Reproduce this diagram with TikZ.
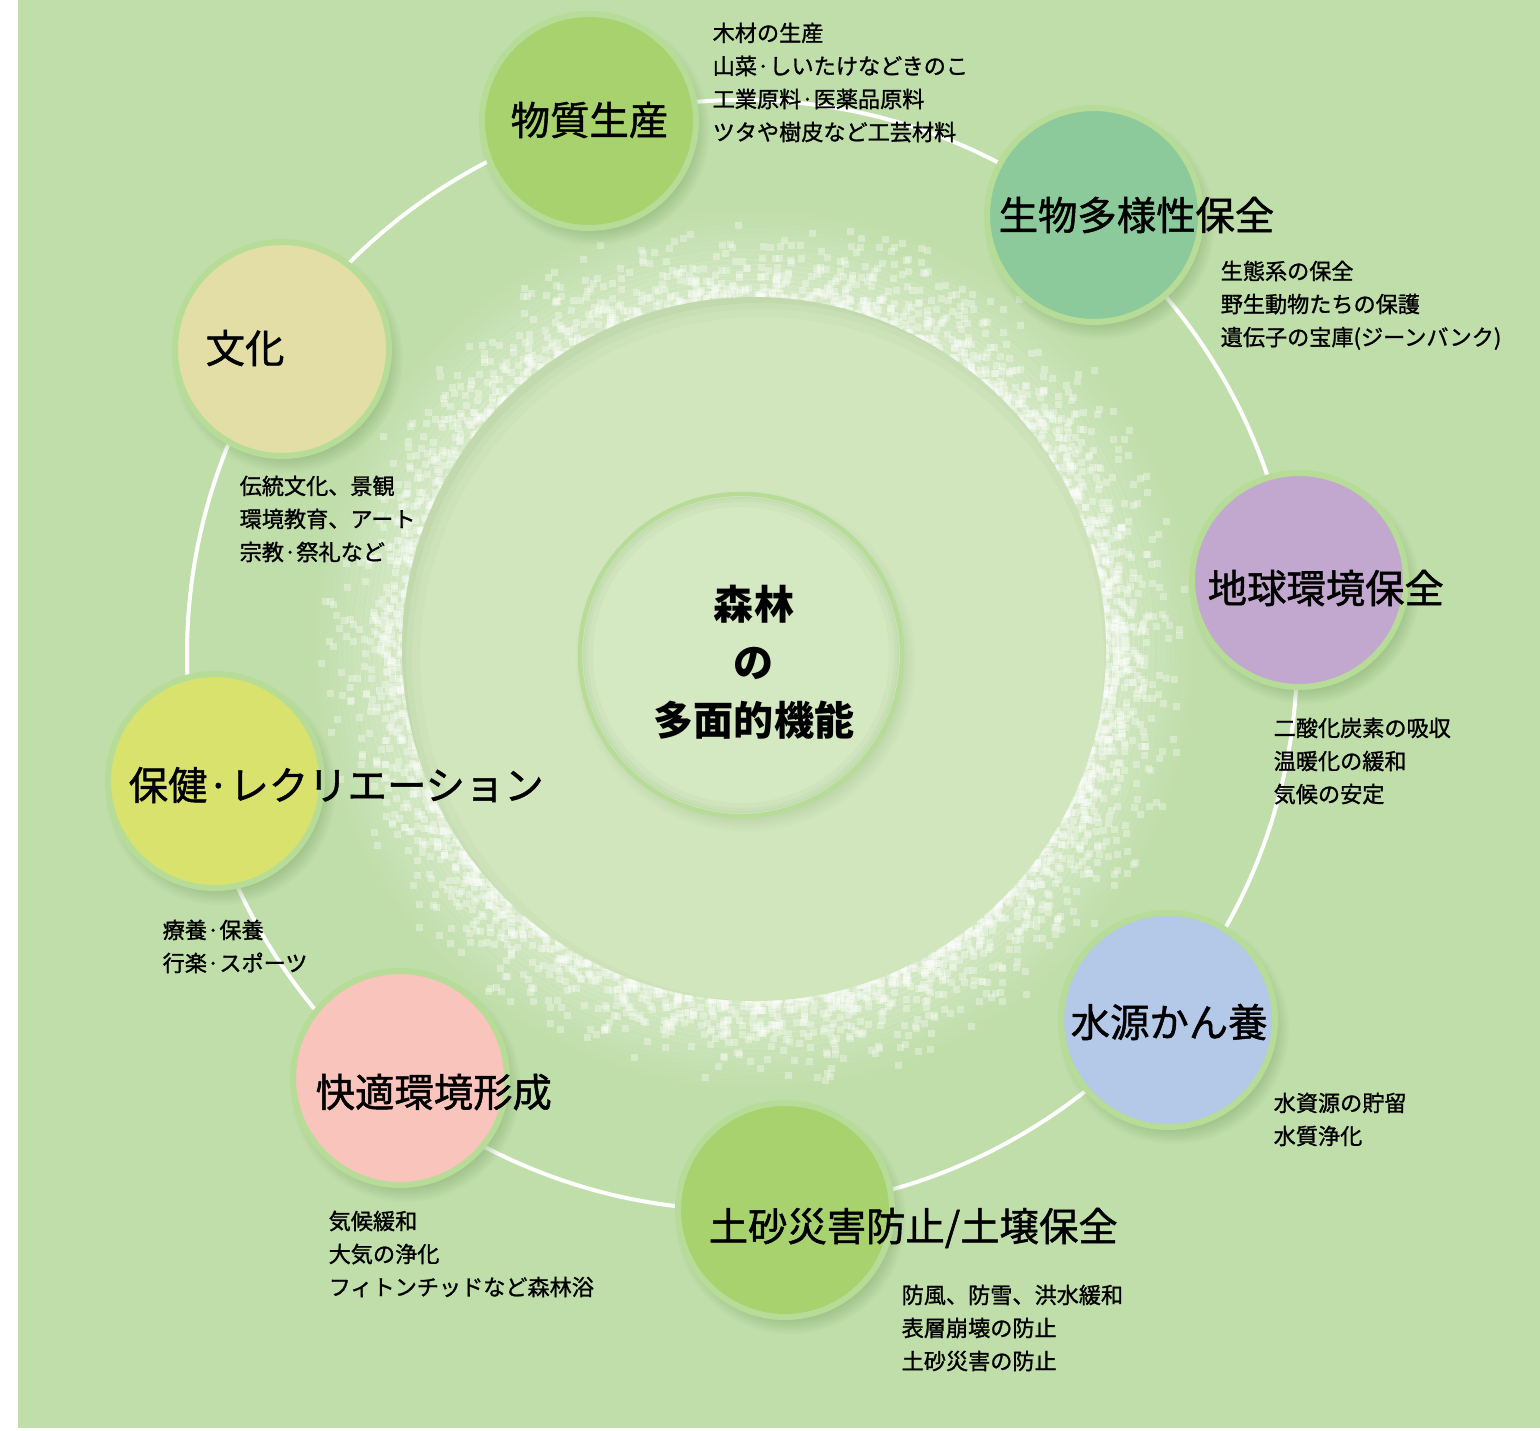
\documentclass[tikz,border=0pt]{standalone}
\usepackage{fontspec}
\setmainfont{Noto Sans CJK JP}
\newfontfamily\medfont{Noto Sans CJK JP}[FakeBold=1.2]
\usetikzlibrary{shadows}
\definecolor{bggreen}{RGB}{192,222,170}
\definecolor{diskgreen}{RGB}{210,230,190}
\definecolor{centergreen}{RGB}{212,232,194}
\definecolor{ringgreen}{RGB}{182,220,152}
\definecolor{shadowgreen}{RGB}{120,160,100}
\definecolor{busshitsuC}{RGB}{168,210,110}
\definecolor{seibutsuC}{RGB}{140,202,155}
\definecolor{chikyuC}{RGB}{194,168,206}
\definecolor{suigenC}{RGB}{180,200,232}
\definecolor{doshaC}{RGB}{168,210,110}
\definecolor{kaitekiC}{RGB}{248,196,188}
\definecolor{hokenC}{RGB}{218,226,110}
\definecolor{bunkaC}{RGB}{226,222,166}
\newcommand{\titlefont}{\fontsize{11.2pt}{13pt}\medfont}
\newcommand{\notefont}{\fontsize{6.3pt}{9.4pt}\medfont}

\begin{document}
\begin{tikzpicture}[x=0.1mm,y=-0.1mm,
  bubble/.style={circle,draw=ringgreen,line width=0.6mm,minimum size=21.4mm,inner sep=0pt,
    circular drop shadow={shadow xshift=0.5mm,shadow yshift=-0.8mm,shadow scale=1.08,fill=shadowgreen,opacity=0.45}},
  functitle/.style={anchor=west,inner sep=0pt,font=\titlefont},
  funcnote/.style={anchor=north west,inner sep=0pt,align=left,font=\notefont}]
  \useasboundingbox (0,0) rectangle (1540,1430);
  \fill[bggreen] (18,0) rectangle (1540,1428);

  % speckled ring round the inner disk
  \begin{scope}[shift={(754,649)}]
    \foreach \k [evaluate=\k as \op using 0.32*(1-\k/18),
                 evaluate=\k as \rr using 352+5*\k] in {0,...,17}
      \draw[white,opacity=\op,line width=0.55mm] (0,0) circle (\rr);
    \pgfmathsetseed{42}
    \foreach \i in {1,...,3200}{
      \pgfmathsetmacro\ang{360*rnd}
      \pgfmathsetmacro\rad{346+95*rnd*rnd}
      \fill[white,opacity=0.32] (\ang:\rad) rectangle ++(7,7);
    }
  \end{scope}

  % inner disk
  \fill[diskgreen] (754,649) circle (352);
  \begin{scope}
    \clip (754,649) circle (352);
    \foreach \w/\o in {4mm/0.05,2.4mm/0.06,1.2mm/0.07}
      \draw[shadowgreen,opacity=\o,line width=\w] (762,659) circle (362);
  \end{scope}

  % white ring through the functions
  \draw[white,line width=0.4mm] (742,655) circle (555);

  \foreach \n/\cx/\cy/\col in {busshitsu/589/121/busshitsuC,seibutsu/1094/215/seibutsuC,
      chikyu/1299/580/chikyuC,suigen/1168/1020/suigenC,dosha/785/1210/doshaC,
      kaiteki/400/1078/kaitekiC,hoken/215/781/hokenC,bunka/282/349/bunkaC}
    \node[bubble,fill=\col] (\n) at (\cx,\cy) {};

  % titles
  \node[functitle] (busshitsu-t) at (510,120) {物質生産};
  \node[functitle] (seibutsu-t) at (998,215) {生物多様性保全};
  \node[functitle] (chikyu-t) at (1207,588) {地球環境保全};
  \node[functitle] (suigen-t) at (1070,1022) {水源かん養};
  \node[functitle] (dosha-t) at (708,1228) {土砂災害防止/土壌保全};
  \node[functitle] (kaiteki-t) at (315,1092) {快適環境形成};
  \node[functitle] (hoken-t) at (128,785) {保健·レクリエーション};
  \node[functitle] (bunka-t) at (205,348) {文化};

  % notes
  \node[funcnote] (busshitsu-n) at (712,22) {木材の生産\\山菜·しいたけなどきのこ\\工業原料·医薬品原料\\ツタや樹皮など工芸材料};
  \node[funcnote] (seibutsu-n) at (1220,260) {生態系の保全\\野生動物たちの保護\\遺伝子の宝庫(ジーンバンク)};
  \node[funcnote] (chikyu-n) at (1273,717) {二酸化炭素の吸収\\温暖化の緩和\\気候の安定};
  \node[funcnote] (suigen-n) at (1273,1092) {水資源の貯留\\水質浄化};
  \node[funcnote] (dosha-n) at (901,1284) {防風、防雪、洪水緩和\\表層崩壊の防止\\土砂災害の防止};
  \node[funcnote] (kaiteki-n) at (328,1210) {気候緩和\\大気の浄化\\フィトンチッドなど森林浴};
  \node[funcnote] (hoken-n) at (162,919) {療養·保養\\行楽·スポーツ};
  \node[funcnote] (bunka-n) at (239,475) {伝統文化、景観\\環境教育、アート\\宗教·祭礼など};

  % centre
  \node[circle,draw=ringgreen,line width=0.45mm,fill=centergreen,minimum size=32.2mm,inner sep=0pt,
    circular drop shadow={shadow xshift=0.4mm,shadow yshift=-0.6mm,shadow scale=1.06,fill=shadowgreen,opacity=0.35}]
    (hub) at (741,655) {};
  \begin{scope}
    \clip (741,655) circle (158);
    \foreach \w/\o in {2.4mm/0.05,1.4mm/0.06,0.7mm/0.07}
      \draw[shadowgreen,opacity=\o,line width=\w] (hub.center) circle (160);
  \end{scope}
  \node[align=center,font=\fontsize{11.4pt}{16.5pt}\selectfont\bfseries] (hub-t) at (754,662) {森林\\の\\多面的機能};
\end{tikzpicture}
\end{document}
